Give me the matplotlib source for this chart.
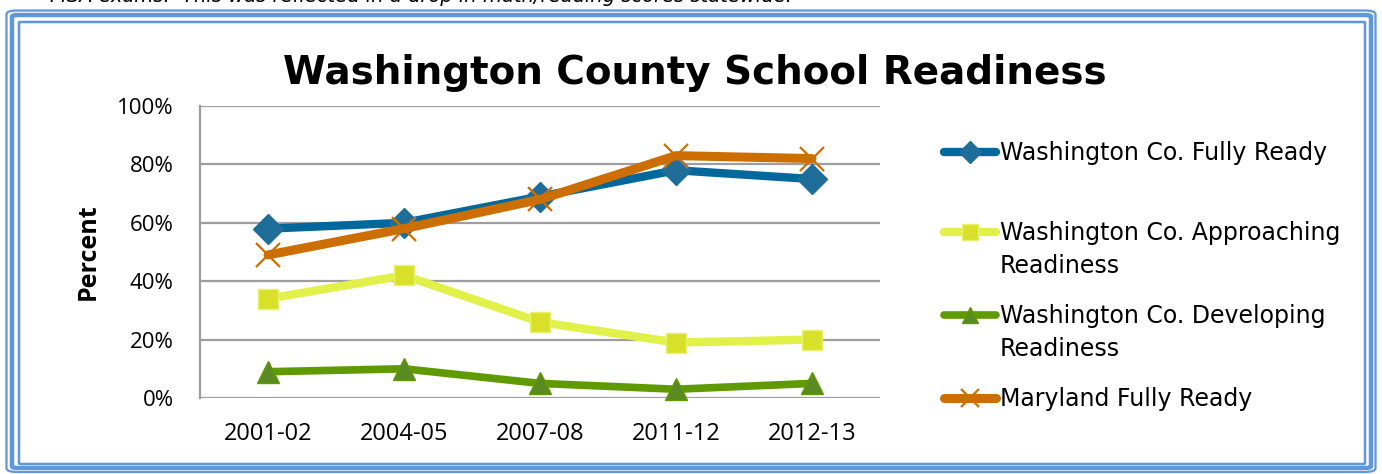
import matplotlib
matplotlib.use("Agg")
import matplotlib.pyplot as plt
from matplotlib.lines import Line2D
from matplotlib.patches import FancyBboxPatch
from matplotlib.ticker import FuncFormatter

categories = ["2001-02", "2004-05", "2007-08", "2011-12", "2012-13"]
wash_fully = [58, 60, 69, 78, 75]
wash_approaching = [34, 42, 26, 19, 20]
wash_developing = [9, 10, 5, 3, 5]
md_fully = [49, 58, 68, 83, 82]
series_labels = ["Washington Co. Fully Ready",
                 "Washington Co. Approaching\nReadiness",
                 "Washington Co. Developing\nReadiness",
                 "Maryland Fully Ready"]
yticks = [0, 20, 40, 60, 80, 100]

W, H = 1382, 474
fig = plt.figure(figsize=(W / 100, H / 100), dpi=100)
fig.patch.set_facecolor("white")

def fx(px):
    return px / W

def fy(py):
    return 1 - py / H

ax = fig.add_axes([fx(200), fy(398), fx(880) - fx(200), fy(106) - fy(398)])
x = list(range(len(categories)))

styles = [
    dict(color="#00689A", marker="D", markersize=15, markerfacecolor="#1F6E9A", markeredgecolor="#1F6E9A", lw=6),
    dict(color="#E2F04A", marker="s", markersize=15, markerfacecolor="#D8E02A", markeredgecolor="#E8F26A", lw=6),
    dict(color="#5E9A00", marker="^", markersize=16, markerfacecolor="#5A8A22", markeredgecolor="#5E9A00", lw=5.5),
    dict(color="#CD6E00", marker="x", markersize=17, markeredgewidth=1.6, markeredgecolor="#CD6E00", lw=6.5),
]
data = [wash_fully, wash_approaching, wash_developing, md_fully]
lines = []
for vals, st, lab in zip(data, styles, series_labels):
    ln, = ax.plot(x, vals, label=lab, solid_capstyle="round", solid_joinstyle="round", zorder=3, clip_on=False, **st)
    lines.append(ln)

ax.set_xlim(-0.5, len(categories) - 0.5)
ax.set_ylim(0, 100)
ax.set_yticks(yticks)
ax.yaxis.set_major_formatter(FuncFormatter(lambda v, p: f"{int(v)}%"))
ax.set_xticks(x)
ax.set_xticklabels(categories)
ax.grid(axis="y", color="#9E9E9E", lw=1.6)
ax.set_axisbelow(True)
for s in ["top", "right", "bottom"]:
    ax.spines[s].set_visible(False)
ax.spines["left"].set_color("#9E9E9E")
ax.spines["left"].set_linewidth(1.6)
ax.tick_params(axis="both", length=0)
ax.tick_params(axis="y", pad=19, labelsize=16)
ax.tick_params(axis="x", pad=17, labelsize=17)
for lbl in ax.get_xticklabels() + ax.get_yticklabels():
    lbl.set_fontfamily("Open Sans")
ax.set_ylabel("Percent", fontsize=18, fontweight="bold", family="Open Sans", labelpad=12)

fig.text(fx(695), fy(73), "Washington County School Readiness", ha="center", va="center",
         fontsize=28, fontweight="bold", family="DejaVu Sans")

# legend drawn manually
leg_y = [152, 232, 315, 398]
for ln, py, lab, st in zip(lines, leg_y, series_labels, styles):
    kw = dict(st)
    fig.add_artist(Line2D([fx(944), fx(996)], [fy(py), fy(py)], transform=fig.transFigure,
                          solid_capstyle="round", **{k: v for k, v in kw.items() if k != "marker"}))
    mk = dict(st)
    mk["markersize"] = st["markersize"] * 0.75
    mk.pop("lw")
    fig.add_artist(Line2D([fx(970)], [fy(py)], transform=fig.transFigure, linestyle="none", **mk))
    fig.text(fx(1000), fy(py - 11), lab, ha="left", va="top", fontsize=17, family="DejaVu Sans",
             linespacing=1.45)

# partially visible text at very top
fig.text(fx(50), fy(2.5), "MSA exams.  This was reflected in a drop in math/reading scores statewide.",
         ha="left", va="baseline", fontsize=14, style="italic", family="DejaVu Sans")

# frame
col = "#5E97DA"
def frame(off_l, off_t, off_r, off_b, lw, rad):
    p = FancyBboxPatch((fx(off_l), fy(H - off_b)), fx(W - off_r - off_l), fy(off_t) - fy(H - off_b),
                       boxstyle=f"round,pad=0,rounding_size={rad}", transform=fig.transFigure,
                       fill=False, edgecolor=col, linewidth=lw)
    fig.add_artist(p)
frame(6.5, 10.5, 6.5, 2, 1.6, 0.008)
frame(12, 15, 11, 6, 3.2, 0.004)
frame(19, 22, 17, 10, 1.8, 0.001)

fig.savefig("out.png", dpi=100)
